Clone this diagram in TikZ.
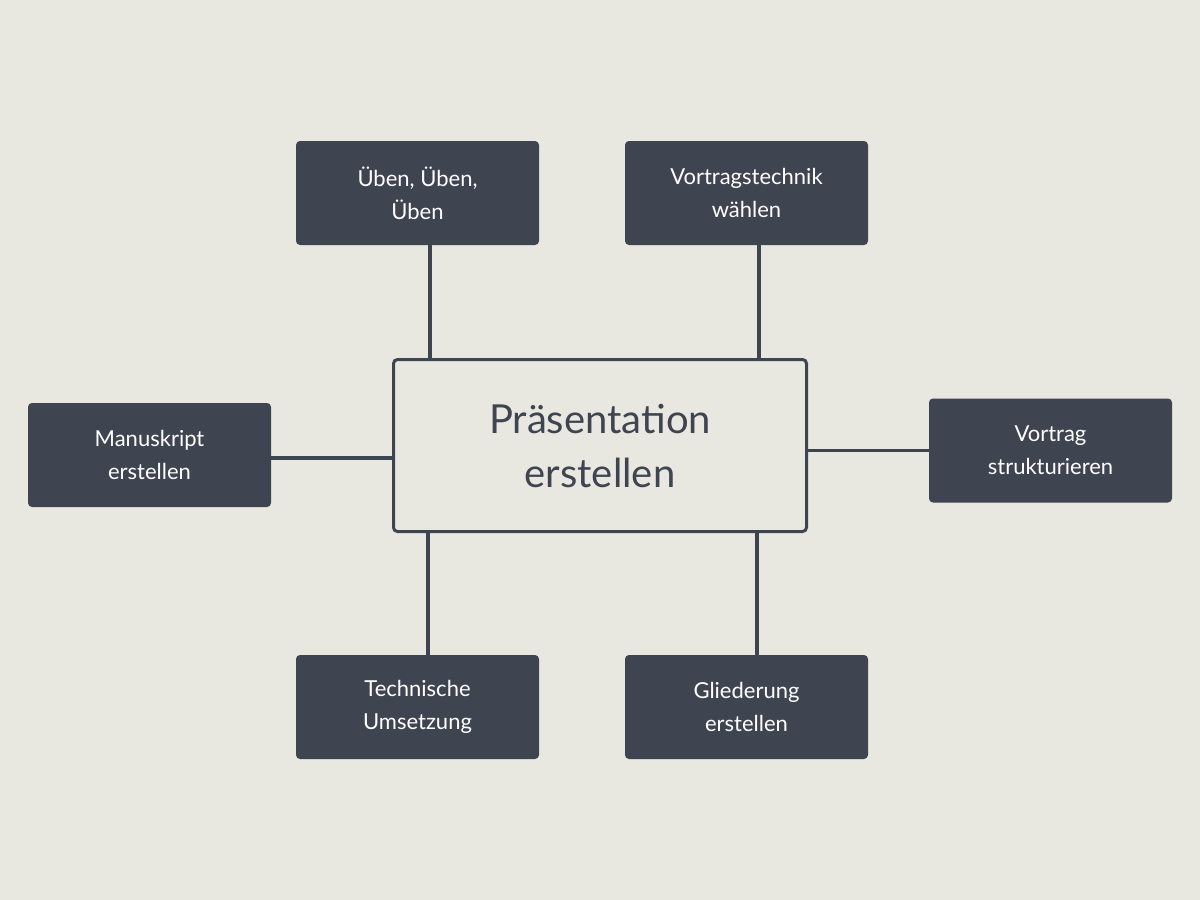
\documentclass[tikz,border=0pt]{standalone}
\usepackage{fontspec}
\setmainfont{Lato}
\definecolor{bg}{HTML}{E8E7E0}
\definecolor{dk}{HTML}{3F4451}
\begin{document}
\begin{tikzpicture}[x=1pt,y=-1pt,
  sub/.style={fill=dk,rounded corners=4pt,minimum width=243pt,minimum height=104pt,text=white,align=center,font=\fontsize{22}{33}\selectfont,inner sep=0pt},
  ctr/.style={fill=bg,draw=dk,line width=3pt,rounded corners=4pt,minimum width=413pt,minimum height=172pt,text=dk,align=center,font=\fontsize{40}{54}\selectfont},
  con/.style={draw=dk,line width=3.5pt}]
\fill[bg] (0,0) rectangle (1200,900);
\node[ctr] (c) at (600,445.5) {Präsentation\\erstellen};
\node[sub] (ueben) at (417.5,193) {Üben, Üben,\\Üben};
\node[sub] (vt) at (746.5,193) {Vortragstechnik\\wählen};
\node[sub] (man) at (149.5,455) {Manuskript\\erstellen};
\node[sub] (vs) at (1050.5,450.5) {Vortrag\\strukturieren};
\node[sub] (tech) at (417.5,707) {Technische\\Umsetzung};
\node[sub] (gl) at (746.5,707) {Gliederung\\erstellen};
\draw[con] ([xshift=12.5pt]ueben.south) -- ([xshift=12.5pt]ueben.south |- c.north);
\draw[con] ([xshift=12.5pt]vt.south) -- ([xshift=12.5pt]vt.south |- c.north);
\draw[con] ([xshift=10.5pt]tech.north) -- ([xshift=10.5pt]tech.north |- c.south);
\draw[con] ([xshift=10.5pt]gl.north) -- ([xshift=10.5pt]gl.north |- c.south);
\draw[con] ([yshift=-3pt]man.east) -- ([yshift=-3pt]man.east -| c.west);
\draw[con] (vs.west) -- (vs.west -| c.east);
\end{tikzpicture}
\end{document}
